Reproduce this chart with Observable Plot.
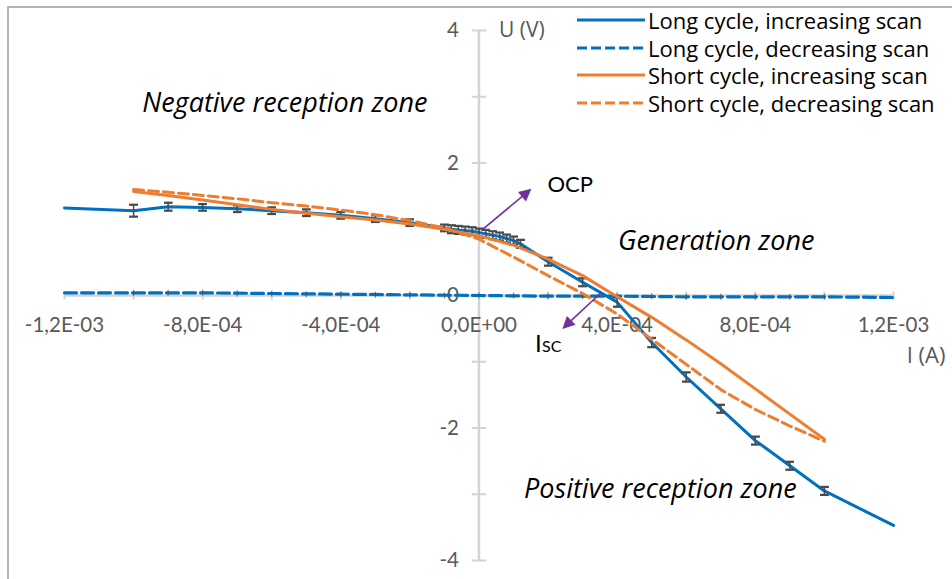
<!DOCTYPE html>
<html><head><meta charset="utf-8">
<script src="https://cdn.jsdelivr.net/npm/d3@7"></script>
<script src="https://cdn.jsdelivr.net/npm/@observablehq/plot@0.6"></script>
<style>
html,body{margin:0;padding:0;background:#fff;}
#wrap{position:relative;width:952px;height:579px;overflow:hidden;background:#fff;}
#frame{position:absolute;left:7px;top:6px;right:-10px;bottom:-10px;border-left:2px solid #b4b4b4;border-top:2px solid #b4b4b4;pointer-events:none;}
#chart{position:absolute;left:0;top:0;}
#legend{position:absolute;left:577px;top:6px;font-family:'Open Sans',sans-serif;font-size:22px;color:#000;}
.row{display:flex;align-items:center;height:27.7px;white-space:nowrap;}
.row svg{margin-right:3px;flex:none;}
</style></head><body>
<div id="wrap"><div id="frame"></div><div id="chart"></div><div id="legend"></div></div>
<script>
// ---- Data ----
// Long cycle, increasing scan (blue solid) with error bars
const I_longInc = [-1.2e-3, -1.0e-3, -9e-4, -8e-4, -7e-4, -6e-4, -5e-4, -4e-4, -3e-4, -2e-4, -1e-4, -8e-5, -6e-5, -4e-5, -2e-5, 0, 2e-5, 4e-5, 6e-5, 8e-5, 1e-4, 1.2e-4, 2e-4, 3e-4, 4e-4, 5e-4, 6e-4, 7e-4, 8e-4, 9e-4, 1.0e-3, 1.2e-3];
const U_longInc = [1.32, 1.28, 1.34, 1.33, 1.31, 1.28, 1.25, 1.21, 1.16, 1.10, 1.02, 1.00, 0.99, 0.98, 0.97, 0.95, 0.93, 0.91, 0.89, 0.86, 0.83, 0.78, 0.51, 0.20, -0.10, -0.71, -1.23, -1.71, -2.19, -2.57, -2.95, -3.47];
const E_longInc = [0, 0.09, 0.06, 0.05, 0.05, 0.05, 0.05, 0.05, 0.05, 0.05, 0.05, 0.06, 0.06, 0.06, 0.06, 0.06, 0.06, 0.06, 0.06, 0.06, 0.06, 0.06, 0.06, 0.06, 0.07, 0.07, 0.07, 0.06, 0.06, 0.06, 0.06, 0];
// Long cycle, decreasing scan (blue dashed)
const I_longDec = [-1.2e-3, -1.0e-3, -8e-4, -6e-4, -4e-4, -2e-4, 0, 2e-4, 4e-4, 6e-4, 8e-4, 1.0e-3, 1.2e-3];
const U_longDec = [0.04, 0.04, 0.04, 0.03, 0.02, 0.01, 0.0, -0.01, -0.01, -0.02, -0.02, -0.02, -0.03];
const I_longDecErr = [-1.0e-3, -9e-4, -8e-4, -7e-4, -6e-4, -5e-4, -4e-4, -3e-4, -2e-4, -1e-4, 0, 1e-4, 2e-4, 3e-4, 4e-4, 5e-4, 6e-4, 7e-4, 8e-4, 9e-4, 1.0e-3];
const U_longDecErr = [0.04, 0.04, 0.04, 0.03, 0.03, 0.02, 0.02, 0.01, 0.01, 0.0, 0.0, 0.0, -0.01, -0.01, -0.01, -0.01, -0.02, -0.02, -0.02, -0.02, -0.02];
// Short cycle, increasing scan (orange solid)
const I_short = [-1.0e-3, -9e-4, -8e-4, -7e-4, -6e-4, -5e-4, -4e-4, -3e-4, -2e-4, -1e-4, 0, 1e-4, 2e-4, 3e-4, 4e-4, 5e-4, 6e-4, 7e-4, 8e-4, 9e-4, 1.0e-3];
const U_shortInc = [1.57, 1.51, 1.44, 1.37, 1.30, 1.24, 1.19, 1.14, 1.08, 1.00, 0.90, 0.76, 0.55, 0.30, -0.02, -0.33, -0.67, -1.03, -1.41, -1.79, -2.17];
// Short cycle, decreasing scan (orange dashed)
const U_shortDec = [1.60, 1.56, 1.51, 1.46, 1.40, 1.35, 1.29, 1.22, 1.13, 1.02, 0.85, 0.58, 0.30, 0.03, -0.28, -0.66, -1.04, -1.42, -1.72, -1.97, -2.20];

// Axis ticks
const xMajorTicks = [-1.2e-3, -8e-4, -4e-4, 0, 4e-4, 8e-4, 1.2e-3];
const xTickLabels = ["-1,2E-03", "-8,0E-04", "-4,0E-04", "0,0E+00", "4,0E-04", "8,0E-04", "1,2E-03"];
const xMinorTicks = [-1.2e-3, -1.0e-3, -8e-4, -6e-4, -4e-4, -2e-4, 0, 2e-4, 4e-4, 6e-4, 8e-4, 1.0e-3, 1.2e-3];
const yMajorTicks = [4, 2, 0, -2, -4];
const yTickLabels = ["4", "2", "0", "-2", "-4"];
const yMinorTicks = [4, 3, 2, 1, 0, -1, -2, -3, -4];

// Annotations
const zoneLabels = ["Negative reception zone", "Generation zone", "Positive reception zone"];
const zoneI = [-5.62e-4, 6.87e-4, 5.25e-4];
const zoneU = [2.90, 0.81, -2.92];
const arrowNames = ["OCP", "Isc"];
const arrowFromI = [8.7e-6, 3.54e-4];
const arrowFromU = [0.99, 0.045];
const arrowHeadI = [1.40e-4, 2.52e-4];
const arrowHeadU = [1.56, -0.45];
const arrowAngle = [50, 226];

const seriesNames = ["Long cycle, increasing scan", "Long cycle, decreasing scan", "Short cycle, increasing scan", "Short cycle, decreasing scan"];
const seriesColors = ["#0070C0", "#0070C0", "#ED7D31", "#ED7D31"];
const seriesDash = [null, "10,4", null, "10,4"];

// ---- Build tables ----
const longInc = I_longInc.map((I, i) => ({I, U: U_longInc[i], e: E_longInc[i]}));
const longDec = I_longDec.map((I, i) => ({I, U: U_longDec[i]}));
const longDecErr = I_longDecErr.map((I, i) => ({I, U: U_longDecErr[i], e: 0.045}));
const shortInc = I_short.map((I, i) => ({I, U: U_shortInc[i]}));
const shortDec = I_short.map((I, i) => ({I, U: U_shortDec[i]}));
const xLab = xMajorTicks.map((v, i) => ({v, t: xTickLabels[i]}));
const yLab = yMajorTicks.map((v, i) => ({v, t: yTickLabels[i]}));
const zones = zoneLabels.map((t, i) => ({t, I: zoneI[i], U: zoneU[i]}));
const arrows = arrowNames.map((n, i) => ({n, I1: arrowFromI[i], U1: arrowFromU[i], I2: arrowHeadI[i], U2: arrowHeadU[i], a: arrowAngle[i]}));

const blue = seriesColors[0], orange = seriesColors[2];
const axisGray = "#d3d3d3", labelGray = "#595959", errGray = "#4a4a4a", purple = "#7030A0";

const chart = Plot.plot({
  width: 952, height: 579,
  marginLeft: 64, marginRight: 59, marginTop: 30, marginBottom: 19,
  x: {domain: [-1.2e-3, 1.2e-3], axis: null},
  y: {domain: [-4, 4], axis: null},
  style: {fontFamily: "Lato, sans-serif", background: "transparent", overflow: "visible"},
  marks: [
    Plot.ruleY([0], {stroke: axisGray, strokeWidth: 2.5}),
    Plot.ruleX([0], {stroke: axisGray, strokeWidth: 2.5}),
    Plot.link(xMinorTicks, {x1: d => d, x2: d => d, y1: () => -0.06, y2: () => 0.06, stroke: axisGray, strokeWidth: 2}),
    Plot.link(yMinorTicks, {y1: d => d, y2: d => d, x1: () => -2.1e-5, x2: () => 2.1e-5, stroke: axisGray, strokeWidth: 2}),
    Plot.text(xLab, {x: "v", y: () => 0, text: "t", dy: 30, fill: labelGray, fontSize: 20.5, textAnchor: "middle", lineAnchor: "middle"}),
    Plot.text(yLab, {x: () => 0, y: "v", text: "t", dx: -20, fill: labelGray, fontSize: 20.5, textAnchor: "end", lineAnchor: "middle"}),
    Plot.text(["U (V)"], {x: () => 0, y: () => 4, text: d => d, dx: 20, fontFamily: "'Open Sans', sans-serif", fill: labelGray, fontSize: 21, textAnchor: "start", lineAnchor: "middle"}),
    Plot.text(["I (A)"], {x: () => 1.2e-3, y: () => 0, text: d => d, dx: 52, dy: 60, fontFamily: "'Open Sans', sans-serif", fill: labelGray, fontSize: 22, textAnchor: "end", lineAnchor: "middle"}),
    // long cycle decreasing
    Plot.line(longDec, {x: "I", y: "U", stroke: blue, strokeWidth: 3.2, strokeDasharray: "12,5"}),
    Plot.link(longDecErr, {x1: "I", x2: "I", y1: d => d.U - d.e, y2: d => d.U + d.e, stroke: errGray, strokeWidth: 1.2, strokeOpacity: 0.7}),
    // long cycle increasing
    Plot.line(longInc, {x: "I", y: "U", stroke: blue, strokeWidth: 3}),
    Plot.link(longInc.filter(d => d.e > 0), {x1: "I", x2: "I", y1: d => d.U - d.e, y2: d => d.U + d.e, stroke: errGray, strokeWidth: 1.5, markerStart: "tick-x", markerEnd: "tick-x"}),
    // short cycle
    Plot.line(shortDec, {x: "I", y: "U", stroke: orange, strokeWidth: 3, strokeDasharray: "10,5"}),
    Plot.line(shortInc, {x: "I", y: "U", stroke: orange, strokeWidth: 3}),
    // annotations
    Plot.text(zones, {x: "I", y: "U", text: "t", fontFamily: "'Open Sans', sans-serif", fontStyle: "italic", fontSize: 27, fill: "#000", textAnchor: "middle", lineAnchor: "middle"}),
    Plot.link(arrows, {x1: "I1", y1: "U1", x2: "I2", y2: "U2", stroke: purple, strokeWidth: 1.6}),
    Plot.text(arrows, {x: "I2", y: "U2", text: () => "\u25B2", rotate: "a", fill: purple, fontFamily: "DejaVu Sans", fontSize: 16, textAnchor: "middle", lineAnchor: "middle"}),
    Plot.text(["OCP"], {x: () => 2.64e-4, y: () => 1.67, text: d => d, fontSize: 22, fill: "#000", textAnchor: "middle", lineAnchor: "middle"}),
    Plot.text(["I"], {x: () => 1.62e-4, y: () => -0.86, text: d => d, fontSize: 24, fill: "#000", textAnchor: "start", lineAnchor: "bottom"}),
    Plot.text(["SC"], {x: () => 1.62e-4, y: () => -0.86, text: d => d, dx: 7, fontSize: 16, fill: "#000", textAnchor: "start", lineAnchor: "bottom"})
  ]
});
document.getElementById("chart").appendChild(chart);

// legend (overlaid at top right, as in the reference)
const legend = document.getElementById("legend");
seriesNames.forEach((name, i) => {
  const row = document.createElement("div");
  row.className = "row";
  const dash = seriesDash[i] ? ` stroke-dasharray="${seriesDash[i]}"` : "";
  row.innerHTML = `<svg width="68" height="10"><line x1="0" y1="5" x2="68" y2="5" stroke="${seriesColors[i]}" stroke-width="3.2"${dash}/></svg><span>${name}</span>`;
  legend.appendChild(row);
});
</script>
</body></html>
